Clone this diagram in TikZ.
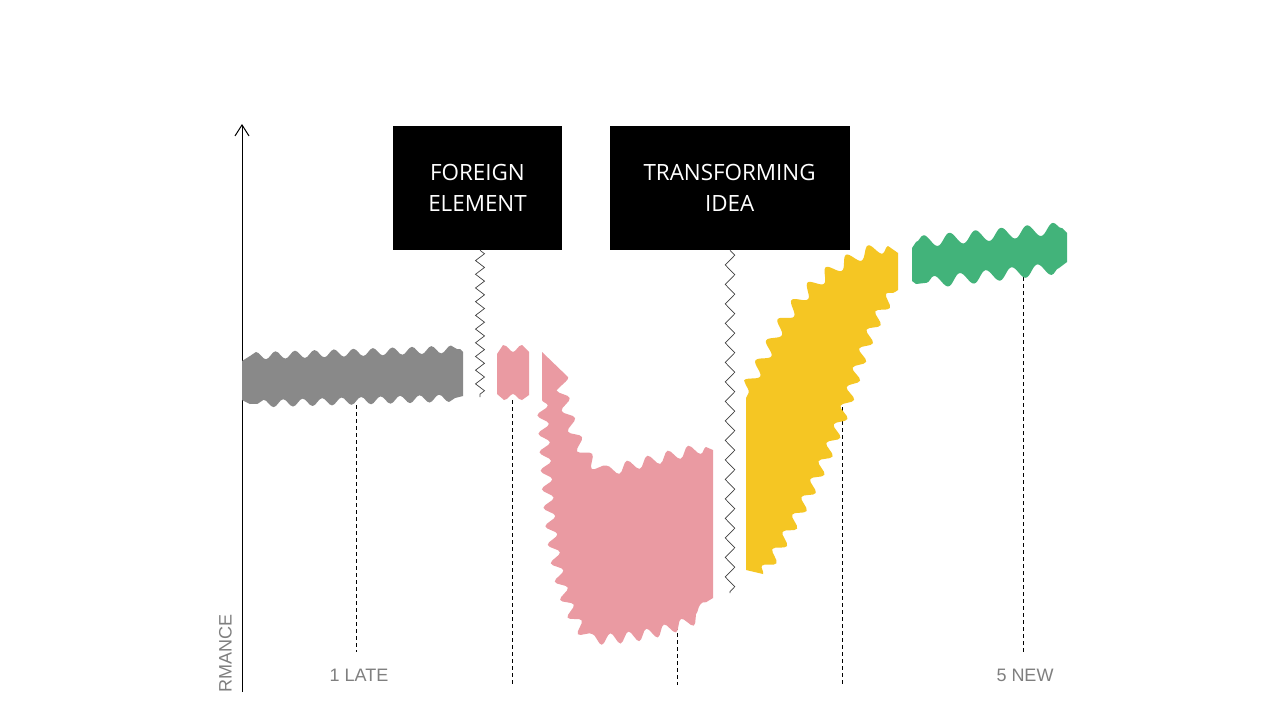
\documentclass[tikz,border=0pt]{standalone}
\usepackage{fontspec}
\usepackage{xcolor}
\usepackage{tikz}
\usetikzlibrary{arrows.meta}
\usetikzlibrary{decorations.pathmorphing}
\usetikzlibrary{positioning}
\newfontfamily\boxfont{Open Sans}
\newfontfamily\lblfont{Liberation Sans}
\definecolor{lategray}{HTML}{898989}
\definecolor{chaospink}{HTML}{EA9AA2}
\definecolor{integyellow}{HTML}{F5C623}
\definecolor{newgreen}{HTML}{42B37A}
\definecolor{lblgray}{HTML}{7F7F7F}
\begin{document}
\begin{tikzpicture}[x=1pt,y=1pt,-,semithick]
 \tikzstyle{box}=[fill=black, text=white, align=center, inner sep=0pt, minimum height=124pt, font=\boxfont\fontsize{22.4}{31.7}\selectfont]
 \tikzstyle{lbl}=[text=lblgray, inner sep=0pt, font=\lblfont\fontsize{18}{18}\selectfont]
 \tikzstyle{drop}=[black, line width=0.8pt, dash pattern=on 4pt off 3pt]
 \tikzstyle{zz}=[black!75, line width=0.7pt, decorate]
 \useasboundingbox (0,0) rectangle (1280,-720);
 \fill[white] (0,0) rectangle (1280,-720);

 % axis
 \coordinate (O) at (242,-692);
 \coordinate (Y) at (242,-124);
 \draw[line width=1pt, -{Straight Barb[length=11pt,width=14pt]}] (O) -- (Y);
 \node[lbl, rotate=90, anchor=base west] (perf) at (231.5,-693) {RMANCE};
 \node[lbl, anchor=base] (late) at (359,-681) {1 LATE};
 \node[lbl, anchor=base] (new) at (1025,-681) {5 NEW};

 % drop lines
 \foreach \i/\x/\a/\b in {1/356/405/652, 2/512/400/685, 3/677/612/685, 4/842/400/685, 5/1023/270/652}{
   \coordinate (top\i) at (\x,-\a);
   \coordinate (bot\i) at (\x,-\b);
   \draw[drop] (top\i) -- (bot\i);
 }

 % late status quo
 \fill[lategray] (242,-400) -- (242,-361) -- (250,-356)
   decorate[decoration={snake,amplitude=3.8pt,segment length=19.5pt}]{ -- (460,-349)}
   -- (463,-352) -- (463,-396) -- (455,-398)
   decorate[decoration={snake,amplitude=3.8pt,segment length=19.5pt}]{ -- (250,-404)}
   -- cycle;

 % chaos
 \fill[chaospink] (497,-394) -- (497,-354) -- (503,-345)
   .. controls (508,-345) and (510,-352) .. (513,-352)
   .. controls (516,-352) and (518,-345) .. (522,-345)
   -- (529,-352) -- (529,-395) -- (522,-400)
   .. controls (518,-400) and (516,-394) .. (513,-394)
   .. controls (510,-394) and (508,-400) .. (504,-400) -- cycle;
 \fill[chaospink] (542,-352) -- (542,-400)
   decorate[decoration={snake,amplitude=5.5pt,segment length=18.5pt}]{ .. controls (548,-500) and (550,-590) .. (585,-630)
     .. controls (640,-630) and (680,-618) .. (708,-601)}
   -- (713,-598) -- (713,-450) -- (706,-447)
   decorate[decoration={snake,amplitude=5.5pt,segment length=21pt}]{ -- (612,-470)
     .. controls (585,-455) and (578,-420) .. (568,-377)}
   -- cycle;

 % integration
 \fill[integyellow] (746,-398) -- (746,-570) -- (763,-574)
   decorate[decoration={snake,amplitude=5.5pt,segment length=20pt}]{ .. controls (805,-510) and (835,-440) .. (850,-390)
     .. controls (862,-350) and (875,-315) .. (895,-292)}
   -- (898,-290) -- (898,-253) -- (888,-246)
   decorate[decoration={snake,amplitude=6pt,segment length=23pt}]{ .. controls (840,-258) and (805,-290) .. (780,-335)
     .. controls (768,-360) and (755,-380) .. (746,-398)}
   -- cycle;

 % new status quo
 \fill[newgreen] (912,-281) -- (912,-248) -- (916,-242)
   decorate[decoration={snake,amplitude=6pt,segment length=26pt}]{ -- (1062,-228)}
   -- (1067,-233) -- (1067,-262) -- (1059,-268)
   decorate[decoration={snake,amplitude=6pt,segment length=26pt}]{ -- (916,-284)}
   -- cycle;

 % boxes
 \node[box, minimum width=169pt] (foreign) at (477.5,-188) {FOREIGN\\ELEMENT};
 \node[box, minimum width=240pt, right=47pt of foreign] (transform) {TRANSFORMING\\IDEA};

 \coordinate (fz) at (480,-397);
 \coordinate (tz) at (730,-593);
 \draw[zz, decoration={zigzag, segment length=13.7pt, amplitude=4.5pt}] (foreign.south -| fz) -- (fz);
 \draw[zz, decoration={zigzag, segment length=19.5pt, amplitude=4.8pt}] (transform.south -| tz) -- (tz);
\end{tikzpicture}
\end{document}
